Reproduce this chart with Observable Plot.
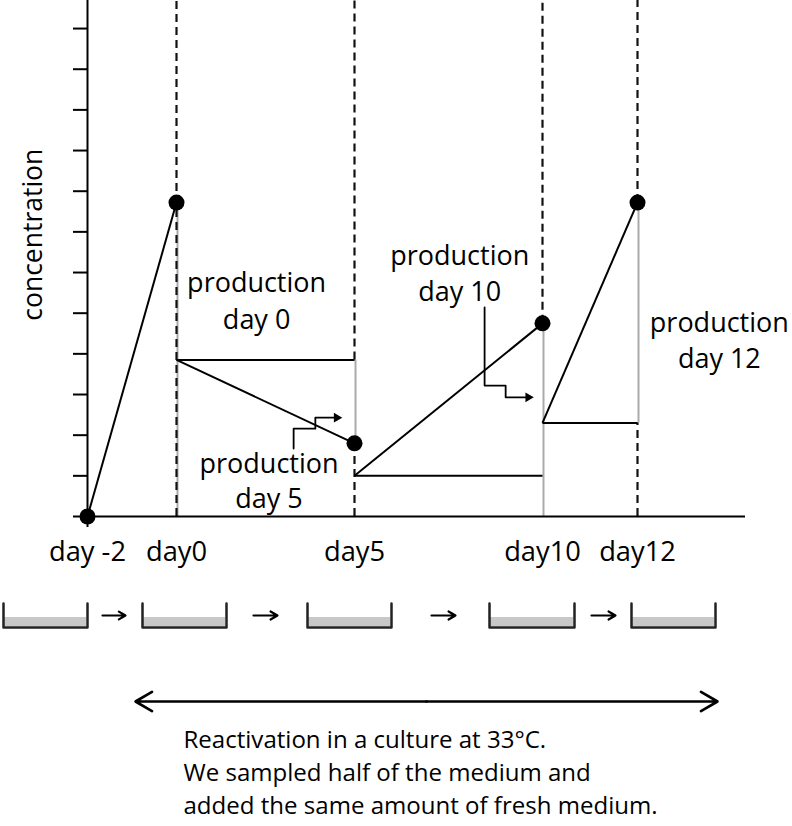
<!DOCTYPE html>
<html><head><meta charset="utf-8">
<script src="https://cdn.jsdelivr.net/npm/d3@7"></script>
<script src="https://cdn.jsdelivr.net/npm/@observablehq/plot@0.6"></script>
<style>body{margin:0;background:#fff;} #chart svg{display:block;}</style>
</head><body><div id="chart"></div><script>
const FONT = "'Open Sans', sans-serif";

// ---- data (schematic values) ----
const dayValues = [-2, 0, 5, 10, 12];
const dayLabels = ["day -2", "day0", "day5", "day10", "day12"];
const yTicks = [0, 1, 2, 3, 4, 5, 6, 7, 8, 9, 10, 11, 12];
const yTop = 12.69;
const xEnd = 14.27;

// concentration measured at each sampling (dots)
const measured = [0, 7.72, 1.8, 4.75, 7.72];
// growth segments: from level after sampling to next measurement
const growStartDay = [-2, 0, 5, 10];
const growEndDay = [0, 5, 10, 12];
const growStartConc = [0, 3.85, 1.0, 2.3];
const growEndConc = [7.72, 1.8, 4.75, 7.72];
// residual level after half-medium exchange (horizontal reference lines)
const residualDay = [0, 5, 10];
const residualNextDay = [5, 10, 12];
const residualConc = [3.85, 1.0, 2.3];
// grey "production" spans
const spanDay = [0, 5, 10, 12];
const spanLow = [0, 1.8, 0, 2.3];
const spanHigh = [7.72, 3.85, 4.75, 7.72];
// dashed sampling-day guides
const guideDay = [0, 5, 5, 10, 12, 12];
const guideLow = [0, 0, 3.85, 4.75, 0, 7.72];
const guideHigh = [yTop, 1.8, yTop, yTop, 2.3, yTop];
// step-arrow callouts
const callout5X = [3.29, 3.29, 3.90, 3.90, 4.50];
const callout5Y = [1.67, 2.16, 2.16, 2.43, 2.43];
const callout10X = [8.46, 8.46, 9.02, 9.02, 9.62];
const callout10Y = [5.14, 3.22, 3.22, 2.93, 2.93];
// annotation labels
const labelText = ["production", "day 0", "production", "day 5", "production", "day 10", "production", "day 12"];
const labelX = [2.25, 2.25, 2.6, 2.6, 7.8, 7.8, 13.72, 13.72];
const labelY = [5.73, 4.82, 1.29, 0.42, 6.39, 5.51, 4.75, 3.87];

// schematic (non-uniform) day spacing of the time axis
const axisDays = [-2, 0, 5, 10, 12, xEnd];
const axisPixels = [87, 176, 354, 542, 637, 745];

// lower schematic (culture dishes)
const dishLeft = [3, 142, 307, 489, 631];
const dishRight = [87, 226, 391, 574, 715];
const stepFrom = [102, 253, 431, 591];
const stepTo = [125, 277, 455, 615];
const noteLines = ["Reactivation in a culture at 33°C.", "We sampled half of the medium and", "added the same amount of fresh medium."];

// ---- font sizing by measured width ----
const ctx = document.createElement("canvas").getContext("2d");
function fit(text, width) { ctx.font = `100px ${FONT}`; return 100 * width / ctx.measureText(text).width; }
const sizeLabel = fit("production", 139);
const sizeDay = fit("day -2", 77);
const sizeConc = fit("concentration", 172);
const sizeNote = fit(noteLines[0], 363);

// ---- tables ----
const grow = growStartDay.map((d, i) => ({x1: d, x2: growEndDay[i], y1: growStartConc[i], y2: growEndConc[i]}));
const resid = residualDay.map((d, i) => ({x1: d, x2: residualNextDay[i], y: residualConc[i]}));
const spans = spanDay.map((d, i) => ({x: d, y1: spanLow[i], y2: spanHigh[i]}));
const guides = guideDay.map((d, i) => ({x: d, y1: guideLow[i], y2: guideHigh[i]}));
const dots = dayValues.map((d, i) => ({x: d, y: measured[i]}));
const callouts = [
  ...callout5X.map((x, i) => ({id: "d5", x, y: callout5Y[i]})),
  ...callout10X.map((x, i) => ({id: "d10", x, y: callout10Y[i]}))
];
const tips = [
  {x: callout5X[callout5X.length - 1], y: callout5Y[callout5Y.length - 1]},
  {x: callout10X[callout10X.length - 1], y: callout10Y[callout10Y.length - 1]}
];
const labels = labelText.map((t, i) => ({t, x: labelX[i], y: labelY[i]}));
const days = dayValues.map((d, i) => ({x: d, t: dayLabels[i]}));

const dayToPos = d3.scaleLinear().domain(axisDays).range(axisPixels);

const chart = Plot.plot({
  width: 792, height: 580,
  marginLeft: 87, marginRight: 47, marginTop: 0, marginBottom: 64,
  x: {type: "linear", transform: dayToPos, domain: [axisPixels[0], axisPixels[axisPixels.length - 1]], axis: null},
  y: {domain: [0, yTop]},
  style: {fontFamily: FONT, color: "#000", background: "white", overflow: "visible"},
  marks: [
    Plot.ruleX(spans, {x: "x", y1: "y1", y2: "y2", stroke: "#aaaaaa", strokeWidth: 2, dx: 1}),
    Plot.ruleX(guides, {x: "x", y1: "y1", y2: "y2", stroke: "#111", strokeWidth: 2.2, strokeDasharray: "8,5"}),
    Plot.ruleX([-2], {y1: 0, y2: yTop, stroke: "#000", strokeWidth: 2}),
    Plot.ruleY([0], {x1: -2, x2: xEnd, stroke: "#000", strokeWidth: 2}),
    Plot.axisY({ticks: yTicks, tickSize: 14, tickFormat: () => "", label: null, strokeWidth: 2}),
    Plot.ruleX([-2], {y1: 0, y2: -0.27, stroke: "#000", strokeWidth: 2}),
    Plot.link(resid, {x1: "x1", x2: "x2", y1: "y", y2: "y", stroke: "#000", strokeWidth: 2}),
    Plot.link(grow, {x1: "x1", x2: "x2", y1: "y1", y2: "y2", stroke: "#000", strokeWidth: 2}),
    Plot.dot(dots, {x: "x", y: "y", r: 8, fill: "#000"}),
    Plot.line(callouts, {x: "x", y: "y", z: "id", stroke: "#000", strokeWidth: 1.8, curve: "linear"}),
    Plot.dot(tips, {x: "x", y: "y", symbol: "triangle", rotate: 90, r: 3.6, fill: "#000"}),
    Plot.text(labels, {x: "x", y: "y", text: "t", fontSize: sizeLabel, fill: "#000"}),
    Plot.text(days, {x: "x", y: 0, dy: 36, text: "t", fontSize: sizeDay, fill: "#000"}),
    Plot.text(["concentration"], {x: -2, y: 6.93, dx: -54, rotate: -90, text: d => d, fontSize: sizeConc, fill: "#000"})
  ]
});

const dishes = dishLeft.flatMap((l, i) => [
  {id: i, x: l, y: 23}, {id: i, x: l, y: 47}, {id: i, x: dishRight[i], y: 47}, {id: i, x: dishRight[i], y: 23}
]);
const media = dishLeft.map((l, i) => ({x1: l + 1, x2: dishRight[i] - 1, y1: 37, y2: 46}));
const steps = stepFrom.map((x, i) => ({x1: x, x2: stepTo[i], y: 35}));
const notes = noteLines.map((t, i) => ({t, y: 167 + i * 33}));

const lower = Plot.plot({
  width: 792, height: 246, margin: 0,
  x: {type: "identity", axis: null},
  y: {type: "identity", axis: null},
  style: {fontFamily: FONT, color: "#000", background: "white", overflow: "visible"},
  marks: [
    Plot.rect(media, {x1: "x1", x2: "x2", y1: "y1", y2: "y2", fill: "#c8c8c8"}),
    Plot.line(dishes, {x: "x", y: "y", z: "id", stroke: "#222", strokeWidth: 2.5, strokeLinejoin: "round"}),
    Plot.arrow(steps, {x1: "x1", x2: "x2", y1: "y", y2: "y", stroke: "#000", strokeWidth: 2.2, headLength: 9}),
    Plot.arrow([{a: 426, b: 135}, {a: 426, b: 717}], {x1: "a", x2: "b", y1: 121, y2: 121, stroke: "#000", strokeWidth: 2.6, headLength: 11}),
    Plot.text(notes, {x: 183, y: "y", text: "t", textAnchor: "start", lineAnchor: "bottom", fontSize: sizeNote, fill: "#000"})
  ]
});

document.getElementById("chart").append(chart, lower);
</script></body></html>
